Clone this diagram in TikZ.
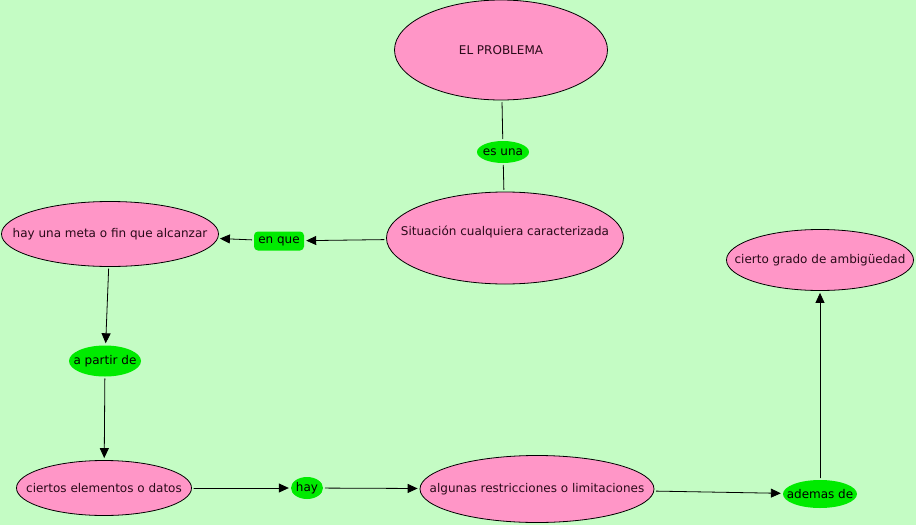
\documentclass[tikz,border=0pt]{standalone}
\usepackage{fontspec}
\setmainfont{DejaVu Sans}
\usetikzlibrary{arrows.meta,shapes.geometric}
\definecolor{ccffcc}{rgb}{0.77,0.99,0.77}
\definecolor{ff99cc}{rgb}{1.0,0.59,0.78}
\definecolor{qqeeqq}{rgb}{0.0,0.92,0.0}
\definecolor{txtdark}{rgb}{0.16,0.04,0.1}
\newcommand{\lbl}[1]{\makebox[0pt]{#1}}
\tikzset{
  concept/.style={ellipse,draw=black,line width=0.8pt,fill=ff99cc,inner sep=0pt,
    text=txtdark,font=\fontsize{12}{14}\selectfont},
  link/.style={ellipse,fill=qqeeqq,inner sep=0pt,text=black,font=\fontsize{12}{14}\selectfont},
  conn/.style={line width=0.8pt,shorten <=2pt,shorten >=2pt}
}
\begin{document}
\begin{tikzpicture}[line cap=round,line join=round,>={Triangle[length=10pt,width=9pt]},x=1pt,y=-1pt]
\fill[ccffcc] (0,0) rectangle (916,525);
\useasboundingbox (0,0) rectangle (916,525);
% concepts
\node[concept,minimum width=213pt,minimum height=100pt] (problema) at (501,50) {\lbl{EL PROBLEMA}};
\node[concept,minimum width=237pt,minimum height=92pt] (situacion) at (505,238) {\lbl{\raisebox{15pt}{Situación cualquiera caracterizada}}};
\node[concept,minimum width=217pt,minimum height=65pt] (meta) at (110,234) {\lbl{hay una meta o fin que alcanzar}};
\node[concept,minimum width=175pt,minimum height=55pt] (datos) at (104,488) {\lbl{ciertos elementos o datos}};
\node[concept,minimum width=234pt,minimum height=67pt] (restric) at (537,489) {\lbl{algunas restricciones o limitaciones}};
\node[concept,minimum width=187pt,minimum height=61pt] (ambig) at (820,260) {\lbl{cierto grado de ambigüedad}};
% linking phrases
\node[link,minimum width=52pt,minimum height=22pt] (esuna) at (503,152) {\lbl{es una}};
\node[rectangle,rounded corners=4pt,fill=qqeeqq,inner sep=0pt,minimum width=50pt,minimum height=19pt,
  font=\fontsize{12}{14}\selectfont] (enque) at (279,241) {\lbl{en que}};
\node[link,minimum width=72pt,minimum height=31pt] (apartir) at (105,361) {\lbl{a partir de}};
\node[link,minimum width=32pt,minimum height=22pt] (hay) at (307,488) {\lbl{hay}};
\node[link,minimum width=74pt,minimum height=28pt] (ademas) at (820,494) {\lbl{ademas de}};
% connectors
\draw[conn] (problema) -- (esuna);
\draw[conn] (esuna) -- (situacion);
\draw[conn,->] (situacion) -- (enque);
\draw[conn,->] (enque) -- (meta);
\draw[conn,->] (meta) -- (apartir);
\draw[conn,->] (apartir) -- (datos);
\draw[conn,->] (datos) -- (hay);
\draw[conn,->] (hay) -- (restric);
\draw[conn,->] (restric) -- (ademas);
\draw[conn,->] (ademas) -- (ambig);
\end{tikzpicture}
\end{document}
